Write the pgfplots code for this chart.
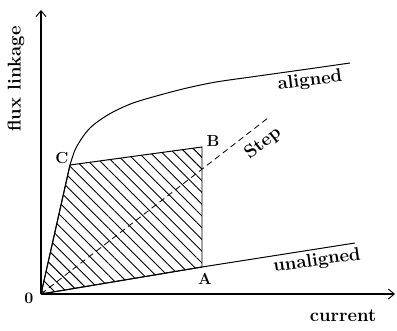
\documentclass[border=0pt]{standalone}
\usepackage{pgfplots}
\pgfplotsset{compat=1.18}
\usetikzlibrary{arrows.meta,patterns.meta}

\tikzset{
  lbl/.style={font=\fontsize{18.5bp}{22bp}\selectfont\bfseries, inner sep=1bp},
  pt/.style={font=\fontsize{16bp}{18bp}\selectfont\bfseries, inner sep=1bp},
}

\begin{document}
\begin{tikzpicture}
\path[use as bounding box] (-41bp,-37bp) rectangle (356bp,294bp);
\begin{axis}[
  at={(0,0)}, anchor=origin,
  x=1bp, y=1bp,
  xmin=0, xmax=354, ymin=0, ymax=284,
  axis lines=left,
  axis line style={line width=1.1pt, -{Straight Barb[length=6bp,width=10bp,line width=0.9pt]}},
  xtick=\empty, ytick=\empty,
  clip=false,
]
% energy converted in one stroke
\addplot[line width=1pt, pattern={Lines[angle=-45,distance=8.3bp,line width=0.9pt]}]
  coordinates {(0,0) (29,129) (161,147) (161,27) (0,0)};

% aligned magnetisation curve
\addplot[line width=1pt, smooth, tension=0.5] coordinates {
  (29,129) (34,144) (41,156) (49,166) (59,174) (72,182)
  (92,191) (119,199) (146,206) (175,212) (210,217) (260,224) (309,231)};
\addplot[line width=1pt] coordinates {(0,0) (29,129)};

% unaligned magnetisation curve
\addplot[line width=1pt] coordinates {(0,0) (161,27) (314,51)};

% step line
\addplot[line width=0.8pt, dash pattern=on 6bp off 4bp] coordinates {(0,0) (227,176)};

\node[lbl, rotate=90] at (axis cs:-25,215) {flux linkage};
\node[lbl] at (axis cs:302,-22) {current};
\node[lbl, rotate=7] at (axis cs:269,213) {aligned};
\node[lbl, rotate=8] at (axis cs:276,33) {unaligned};
\node[lbl, rotate=38] at (axis cs:222,151) {Step};
\node[pt] at (axis cs:21,136) {C};
\node[pt] at (axis cs:172,153) {B};
\node[pt] at (axis cs:164,15) {A};
\node[pt] at (axis cs:-12,-4) {0};
\end{axis}
\end{tikzpicture}
\end{document}
